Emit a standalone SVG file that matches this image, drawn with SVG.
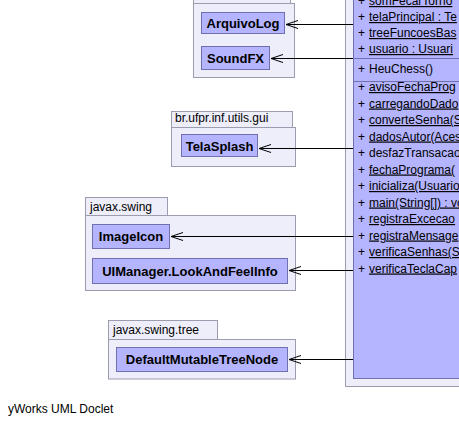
<svg xmlns="http://www.w3.org/2000/svg" width="459" height="425" viewBox="0 0 459 425">
<style>
.pkg{fill:#eeeefa;stroke:#9c9cb0;stroke-width:1}
.cls{fill:#b4b4ff;stroke:#7070b0;stroke-width:1}
.pl{font-family:"Liberation Sans",Arial,sans-serif;font-size:12px;fill:#000}
.cl{font-family:"Liberation Sans",Arial,sans-serif;font-size:13px;font-weight:bold;fill:#000}
.m{font-family:"Liberation Sans",Arial,sans-serif;font-size:12px;fill:#000}
.u{text-decoration:underline}
.sep{stroke:#7070b0;stroke-width:1}
.edge{stroke:#000;stroke-width:1;fill:none}
.foot{font-family:"Liberation Sans",Arial,sans-serif;font-size:12px;fill:#000}
</style>
<defs>
<marker id="open" markerWidth="14" markerHeight="10" refX="13" refY="5" orient="auto" markerUnits="userSpaceOnUse">
<path d="M1,1 L13,5 L1,9" fill="none" stroke="#000" stroke-width="1"/>
</marker>
</defs>

<g id="pkg-main">
<rect class="pkg" x="345.5" y="-20" width="130" height="406.5"/>
<g id="HeuChess">
<rect class="cls" x="353.5" y="-20" width="120" height="398.5"/>
<text class="m" x="358" y="5">+</text><text class="m u" x="369" y="5">somFecarTorno</text>
<text class="m" x="358" y="21">+</text><text class="m u" x="369" y="21">telaPrincipal : Te</text>
<text class="m" x="358" y="37">+</text><text class="m u" x="369" y="37">treeFuncoesBas</text>
<text class="m" x="358" y="53">+</text><text class="m u" x="369" y="53">usuario : Usuari</text>
<line class="sep" x1="353.5" y1="58.5" x2="459" y2="58.5"/>
<text class="m" x="358" y="73">+</text><text class="m" x="369" y="73">HeuChess()</text>
<line class="sep" x1="353.5" y1="81.5" x2="459" y2="81.5"/>
<text class="m" x="358" y="91">+</text><text class="m u" x="369" y="91">avisoFechaProg</text>
<text class="m" x="358" y="107.5">+</text><text class="m u" x="369" y="107.5">carregandoDado</text>
<text class="m" x="358" y="124">+</text><text class="m u" x="369" y="124">converteSenha(S</text>
<text class="m" x="358" y="140.5">+</text><text class="m u" x="369" y="140.5">dadosAutor(Aces</text>
<text class="m" x="358" y="157">+</text><text class="m" x="369" y="157">desfazTransacao</text>
<text class="m" x="358" y="173.5">+</text><text class="m u" x="369" y="173.5">fechaPrograma(</text>
<text class="m" x="358" y="190">+</text><text class="m u" x="369" y="190">inicializa(Usuario</text>
<text class="m" x="358" y="206.5">+</text><text class="m u" x="369" y="206.5">main(String[]) : vo</text>
<text class="m" x="358" y="223">+</text><text class="m u" x="369" y="223">registraExcecao</text>
<text class="m" x="358" y="239.5">+</text><text class="m u" x="369" y="239.5">registraMensage</text>
<text class="m" x="358" y="256">+</text><text class="m u" x="369" y="256">verificaSenhas(S</text>
<text class="m" x="358" y="272.5">+</text><text class="m u" x="369" y="272.5">verificaTeclaCap</text>
</g>
</g>

<g id="pkg-top">
<rect class="pkg" x="193.5" y="-20" width="97" height="24"/>
<rect class="pkg" x="193.5" y="3.5" width="101" height="74"/>
<g id="ArquivoLog">
<rect class="cls" x="201.5" y="12.5" width="83" height="21"/>
<text class="cl" x="243" y="28" text-anchor="middle">ArquivoLog</text>
</g>
<g id="SoundFX">
<rect class="cls" x="201.5" y="46.5" width="68" height="23"/>
<text class="cl" x="235.5" y="63" text-anchor="middle">SoundFX</text>
</g>
</g>

<g id="pkg-gui">
<rect class="pkg" x="171.5" y="111.5" width="121" height="16.5"/>
<text class="pl" x="175" y="122">br.ufpr.inf.utils.gui</text>
<rect class="pkg" x="171.5" y="127.5" width="124" height="39"/>
<g id="TelaSplash">
<rect class="cls" x="181.5" y="134.5" width="76" height="22"/>
<text class="cl" x="219.5" y="150.5" text-anchor="middle">TelaSplash</text>
</g>
</g>

<g id="pkg-swing">
<rect class="pkg" x="85.5" y="197.5" width="82" height="18.5"/>
<text class="pl" x="90" y="211">javax.swing</text>
<rect class="pkg" x="85.5" y="215.5" width="210" height="75"/>
<g id="ImageIcon">
<rect class="cls" x="92.5" y="224.5" width="77" height="24"/>
<text class="cl" x="131" y="241" text-anchor="middle">ImageIcon</text>
</g>
<g id="UIManager.LookAndFeelInfo">
<rect class="cls" x="92.5" y="258.5" width="195" height="25"/>
<text class="cl" x="190" y="275.5" text-anchor="middle">UIManager.LookAndFeelInfo</text>
</g>
</g>

<g id="pkg-tree">
<rect class="pkg" x="108.5" y="320.5" width="109" height="19"/>
<text class="pl" x="113" y="334">javax.swing.tree</text>
<rect class="pkg" x="108.5" y="339.5" width="187" height="39.5"/>
<g id="DefaultMutableTreeNode">
<rect class="cls" x="116.5" y="347.5" width="171" height="24"/>
<text class="cl" x="202" y="364" text-anchor="middle">DefaultMutableTreeNode</text>
</g>
</g>

<g id="connectors">
<line class="edge" x1="353" y1="24.5" x2="286" y2="24.5" marker-end="url(#open)"/>
<line class="edge" x1="353" y1="58.5" x2="271" y2="58.5" marker-end="url(#open)"/>
<line class="edge" x1="353" y1="148.5" x2="259" y2="148.5" marker-end="url(#open)"/>
<line class="edge" x1="353" y1="236.5" x2="171" y2="236.5" marker-end="url(#open)"/>
<line class="edge" x1="353" y1="270.5" x2="289" y2="270.5" marker-end="url(#open)"/>
<line class="edge" x1="353" y1="359.5" x2="289" y2="359.5" marker-end="url(#open)"/>
</g>

<text class="foot" x="8" y="413">yWorks UML Doclet</text>
</svg>
